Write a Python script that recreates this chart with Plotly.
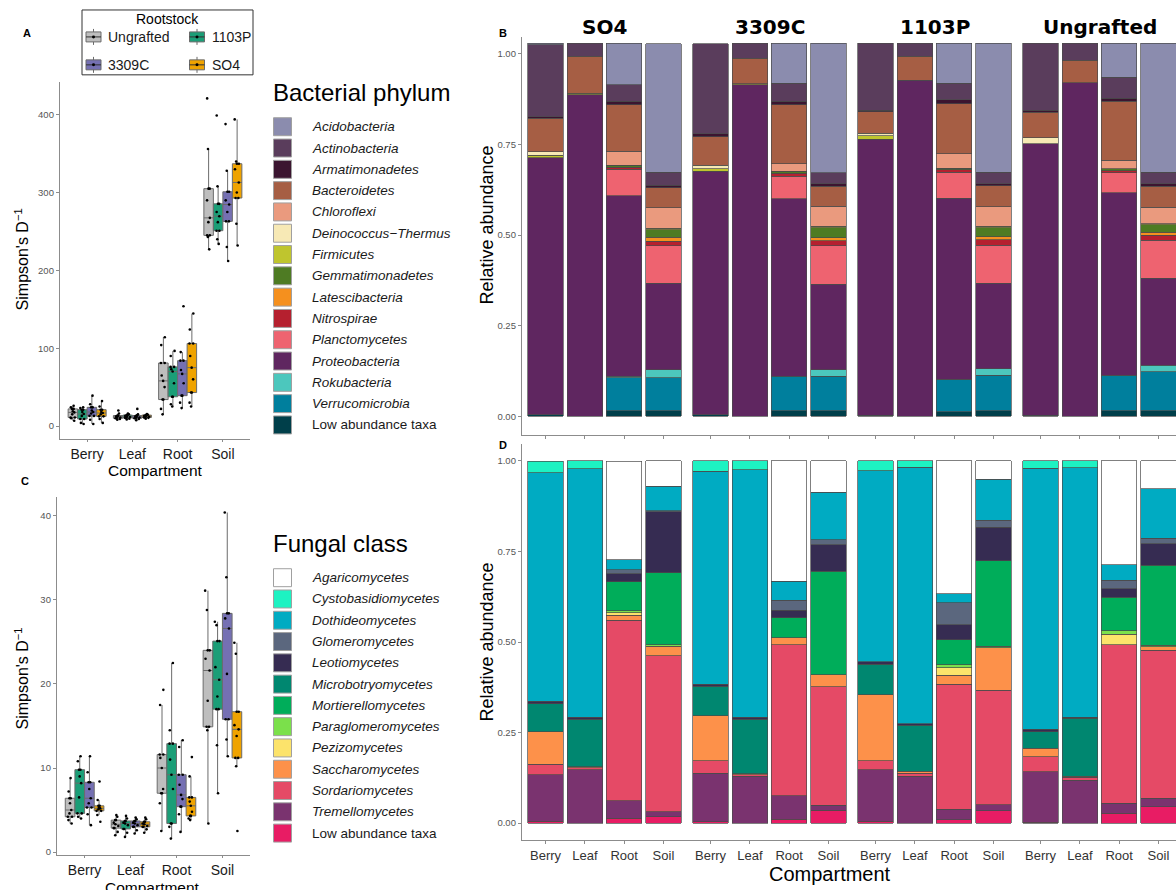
import plotly.graph_objects as go

W, H = 1176, 890
FONT = "Liberation Sans, Arial, Helvetica, sans-serif"

# ---------------- data ----------------
compartments = ["Berry", "Leaf", "Root", "Soil"]
rootstocks = ["Ungrafted", "1103P", "3309C", "SO4"]
rootstock_colors = ["#BEBEBE", "#1B9E77", "#7570B3", "#EFA300"]

# Panel A: bacterial Simpson's D^-1, per rootstock -> [Berry, Leaf, Root, Soil]
bact_ungrafted = [[6.8, 10, 11, 11, 15, 17.5, 19, 22, 22, 24, 26],
                  [8, 9, 10, 10, 11, 12, 12.5, 13.5, 13.5, 16, 20],
                  [15, 22, 34, 34, 50, 58, 65, 81, 81, 104, 114],
                  [227, 243, 245, 245, 262, 267.5, 290, 305, 305, 356, 421]]
bact_1103p = [[2.6, 4, 9, 9, 13, 15.4, 18, 21, 21, 23, 24],
              [8.5, 9.5, 10.5, 10.5, 11.5, 12, 13, 14, 14, 15, 16],
              [25, 28, 37.6, 37.6, 55, 70, 73, 76, 76, 90, 96.5],
              [234, 240, 251, 251, 262, 269.6, 275, 285.5, 285.5, 308, 399]]
bact_3309c = [[2.6, 8, 13, 13, 16, 18, 20, 24, 24, 28, 39],
              [7.5, 9, 10, 10, 11, 11.5, 12.5, 13.5, 13.5, 15, 22],
              [23, 30, 39, 39, 55, 67, 72, 84, 84, 95, 154],
              [212, 230, 263, 263, 275, 284.6, 290, 301, 301, 328, 388]]
bact_so4 = [[4, 9, 12.4, 12.4, 15, 16.7, 18, 21, 21, 25, 32],
            [9.5, 10.5, 11, 11, 12, 12.5, 13, 14, 14, 14.5, 15.5],
            [25, 30, 43, 43, 60, 75, 90, 106, 106, 124, 144.5],
            [232, 260, 293, 293, 300, 313, 330, 337, 337, 340, 394]]

# Panel C: fungal Simpson's D^-1
fung_ungrafted = [[3.4, 3.8, 4.2, 4.2, 4.6, 5.0, 5.8, 6.4, 6.4, 7.2, 8.8],
                  [2.0, 2.4, 2.85, 2.85, 3.1, 3.3, 3.5, 3.8, 3.8, 4.2, 4.4],
                  [2.5, 5.8, 7.0, 7.0, 7.5, 10.0, 11.2, 11.6, 11.6, 17.5, 19.3],
                  [3.4, 14.5, 14.9, 14.9, 18.0, 21.6, 23.0, 24.0, 24.0, 28.8, 31.1]]
fung_1103p = [[4.0, 4.2, 4.6, 4.6, 6.5, 8.2, 9.0, 9.8, 9.8, 10.8, 11.4],
              [1.8, 2.3, 2.75, 2.75, 3.2, 3.4, 3.5, 3.7, 3.7, 4.0, 4.3],
              [1.6, 3.0, 3.4, 3.4, 7.5, 9.2, 11.0, 12.9, 12.9, 14.5, 22.5],
              [7.0, 12.7, 17.0, 17.0, 18.5, 20.5, 22.0, 25.1, 25.1, 27.0, 27.4]]
fung_3309c = [[3.2, 4.5, 5.3, 5.3, 5.8, 6.4, 7.5, 8.3, 8.3, 9.5, 11.4],
              [2.2, 2.6, 3.0, 3.0, 3.2, 3.4, 3.5, 3.7, 3.7, 3.9, 4.1],
              [2.4, 4.5, 5.4, 5.4, 6.3, 6.8, 8.0, 9.2, 9.2, 12.5, 13.3],
              [11.4, 13.4, 15.8, 15.8, 21.2, 26.6, 27.8, 28.4, 28.4, 32.7, 40.4]]
fung_so4 = [[3.6, 4.4, 4.9, 4.9, 5.1, 5.2, 5.3, 5.5, 5.5, 6.2, 8.4],
            [2.3, 2.7, 3.0, 3.0, 3.1, 3.3, 3.4, 3.6, 3.6, 3.9, 4.1],
            [3.8, 4.0, 4.3, 4.3, 4.8, 5.5, 6.0, 6.5, 6.5, 9.0, 11.3],
            [2.5, 10.2, 11.2, 11.2, 13.8, 14.6, 15.1, 16.7, 16.7, 23.6, 24.9]]

# Panels B / D facets; each taxon array = 4 facets x [Berry, Leaf, Root, Soil]
facets = ["SO4", "3309C", "1103P", "Ungrafted"]

phyla = ["Acidobacteria", "Actinobacteria", "Armatimonadetes", "Bacteroidetes",
         "Chloroflexi", "Deinococcus\u2212Thermus", "Firmicutes", "Gemmatimonadetes",
         "Latescibacteria", "Nitrospirae", "Planctomycetes", "Proteobacteria",
         "Rokubacteria", "Verrucomicrobia", "Low abundance taxa"]
phyla_colors = ["#8B8CAE", "#5A3D5C", "#3B1530", "#A65E44", "#EA9A7E", "#F7E9B5",
                "#BFC52E", "#4E7B23", "#F5901E", "#B5202F", "#EE6370", "#5F2660",
                "#4CC7BD", "#007F9D", "#003F4A"]

acidobacteria = [.004, 0, .114, .355, 0, 0, .110, .357, 0, 0, .110, .357, 0, 0, .094, .356]
actinobacteria = [.199, .036, .046, .035, .249, .041, .050, .030, .184, .036, .046, .031, .185, .046, .057, .031]
armatimonadetes = [.004, 0, .009, .007, .007, 0, .009, .007, .004, 0, .011, .006, .005, 0, .009, .007]
bacteroidetes = [.092, .101, .128, .055, .079, .070, .163, .055, .060, .066, .138, .058, .071, .062, .163, .058]
chloroflexi = [0, 0, .039, .057, 0, 0, .021, .055, 0, 0, .039, .054, 0, 0, .023, .045]
deinococcus = [.009, 0, 0, 0, .010, 0, 0, 0, .007, 0, 0, 0, .016, 0, 0, 0]
firmicutes = [.008, .005, 0, .004, .007, .003, 0, .005, .009, 0, 0, .003, 0, 0, 0, .003]
gemmatimonadetes = [0, 0, .006, .021, 0, 0, .005, .027, 0, 0, .005, .026, 0, 0, .005, .021]
latescibacteria = [0, 0, 0, .011, 0, 0, 0, .009, 0, 0, 0, .008, 0, 0, 0, .008]
nitrospirae = [0, 0, .005, .013, 0, 0, .009, .014, 0, 0, .006, .015, 0, 0, .006, .014]
planctomycetes = [0, 0, .073, .103, 0, 0, .061, .106, 0, 0, .072, .105, 0, 0, .055, .105]
proteobacteria = [.709, .887, .499, .239, .671, .915, .491, .236, .762, .927, .499, .235, .749, .921, .503, .240]
rokubacteria = [0, 0, .003, .021, 0, 0, 0, .018, 0, 0, .002, .018, 0, 0, .002, .018]
verrucomicrobia = [0, 0, .091, .091, 0, 0, .094, .094, 0, 0, .088, .098, 0, 0, .096, .107]
bact_low = [.004, 0, .016, .016, .005, 0, .016, .016, .003, 0, .013, .016, .003, 0, .016, .016]

classes = ["Agaricomycetes", "Cystobasidiomycetes", "Dothideomycetes", "Glomeromycetes",
           "Leotiomycetes", "Microbotryomycetes", "Mortierellomycetes", "Paraglomeromycetes",
           "Pezizomycetes", "Saccharomycetes", "Sordariomycetes", "Tremellomycetes",
           "Low abundance taxa"]
class_colors = ["#FFFFFF", "#1DF2C2", "#00ABC2", "#5B677E", "#362C52", "#008770",
                "#00AD5A", "#7BE04B", "#FCE36B", "#FD914A", "#E54A66", "#7A336F", "#E81C64"]

agaricomycetes = [0, 0, .272, .070, 0, 0, .332, .086, 0, 0, .366, .050, 0, 0, .287, .077]
cystobasidiomycetes = [.031, .022, 0, 0, .028, .024, 0, 0, .027, .017, 0, 0, .020, .019, 0, 0]
dothideomycetes = [.632, .686, .027, .067, .588, .684, .053, .132, .528, .709, .025, .114, .721, .689, .043, .136]
glomeromycetes = [0, 0, .012, .003, 0, 0, .027, .013, 0, 0, .061, .019, 0, 0, .023, .016]
leotiomycetes = [.006, .005, .021, .169, .006, .005, .021, .073, .006, .003, .041, .092, .006, .003, .023, .059]
microbotryomycetes = [.078, .131, 0, 0, .081, .150, 0, 0, .084, .127, 0, 0, .046, .159, 0, 0]
mortierellomycetes = [0, 0, .080, .199, 0, 0, .055, .286, 0, 0, .069, .236, 0, 0, .093, .221]
paraglomeromycetes = [0, 0, .006, .003, 0, 0, 0, 0, 0, 0, .009, .005, 0, 0, .010, .004]
pezizomycetes = [0, 0, .007, 0, 0, 0, 0, 0, 0, 0, .020, 0, 0, 0, .028, 0]
saccharomycetes = [.090, .003, .014, .027, .125, .003, .019, .033, .182, .006, .026, .117, .023, .003, 0, .009]
sordariomycetes = [.029, .006, .498, .430, .034, .005, .418, .327, .026, .009, .344, .316, .042, .008, .438, .409]
tremellomycetes = [.128, .147, .048, .014, .134, .129, .064, .015, .142, .129, .030, .017, .139, .119, .027, .023]
fung_low = [.005, 0, .014, .018, .004, 0, .011, .035, .005, 0, .009, .034, .003, 0, .028, .046]

bact_series = [acidobacteria, actinobacteria, armatimonadetes, bacteroidetes, chloroflexi,
               deinococcus, firmicutes, gemmatimonadetes, latescibacteria, nitrospirae,
               planctomycetes, proteobacteria, rokubacteria, verrucomicrobia, bact_low]
fung_series = [agaricomycetes, cystobasidiomycetes, dothideomycetes, glomeromycetes,
               leotiomycetes, microbotryomycetes, mortierellomycetes, paraglomeromycetes,
               pezizomycetes, saccharomycetes, sordariomycetes, tremellomycetes, fung_low]

# ---------------- helpers ----------------
def fx(p):
    return p / W


def fy(p):
    return 1 - p / H


fig = go.Figure()

# ---------------- box panels A and C ----------------
box_sets = [("x", "y", [bact_ungrafted, bact_1103p, bact_3309c, bact_so4]),
            ("x2", "y2", [fung_ungrafted, fung_1103p, fung_3309c, fung_so4])]
for xa, ya, groups in box_sets:
    for rs, col, data in zip(rootstocks, rootstock_colors, groups):
        xs, ys = [], []
        for comp, vals in zip(compartments, data):
            xs += [comp] * len(vals)
            ys += vals
        fig.add_trace(go.Box(
            x=xs, y=ys, name=rs, xaxis=xa, yaxis=ya, offsetgroup=rs,
            fillcolor=col, line=dict(color="#6b6b6b", width=1),
            marker=dict(color="black", size=2.6),
            boxpoints="all", jitter=0.6, pointpos=0, whiskerwidth=0,
            showlegend=False, hoverinfo="skip"))

# ---------------- stacked bars B and D ----------------
def add_stack(series, names, colors, axis_start):
    for fi in range(len(facets)):
        xa = "x%d" % (axis_start + fi)
        ya = "y%d" % (axis_start + fi)
        for vals, name, col in reversed(list(zip(series, names, colors))):
            seg = vals[fi * 4:(fi + 1) * 4]
            seg = [v if v > 0 else None for v in seg]
            fig.add_trace(go.Bar(
                x=compartments, y=seg, name=name, xaxis=xa, yaxis=ya,
                marker=dict(color=col, line=dict(color="#4a4a4a", width=0.7)),
                width=0.9, showlegend=False, hoverinfo="skip"))

add_stack(bact_series, phyla, phyla_colors, 3)
add_stack(fung_series, classes, class_colors, 7)

# ---------------- axes ----------------
LINE = "#8c8c8c"
layout_axes = {}

def xcat(domain, anchor, rng, labels=True, size=14, color="#1a1a1a", ticklen=3):
    return dict(domain=domain, anchor=anchor, type="category",
                categoryorder="array", categoryarray=compartments,
                range=rng, showline=True, linecolor=LINE, linewidth=1.3,
                ticks="outside", ticklen=ticklen, tickcolor=LINE, showgrid=False,
                zeroline=False, showticklabels=labels,
                tickfont=dict(family=FONT, size=size, color=color))

def yval(domain, anchor, rng, tickvals, ticktext=None, visible=True):
    d = dict(domain=domain, anchor=anchor, range=rng, showline=True,
             linecolor=LINE, linewidth=1.3, ticks="outside", ticklen=3,
             tickcolor=LINE, showgrid=False, zeroline=False,
             tickvals=tickvals, visible=visible,
             tickfont=dict(family=FONT, size=9.5, color="#555555"))
    if ticktext:
        d["ticktext"] = ticktext
    return d

# A
layout_axes["xaxis"] = xcat([fx(60), fx(250)], "y", [-0.6, 3.6], ticklen=2)
layout_axes["yaxis"] = yval([fy(440), fy(82)], "x", [-16.7, 442.3], [0, 100, 200, 300, 400])
# C
layout_axes["xaxis2"] = xcat([fx(57), fx(250)], "y2", [-0.6, 3.6], ticklen=2)
layout_axes["yaxis2"] = yval([fy(857), fy(498)], "x2", [-0.36, 42.26], [0, 10, 20, 30, 40])

edges = [522, 687, 852, 1017, 1182]
pticks = [0, 0.25, 0.5, 0.75, 1.0]
ptext = ["0.00", "0.25", "0.50", "0.75", "1.00"]
for fi in range(4):
    e0, e1 = edges[fi], edges[fi + 1]
    e1c = min(e1, W)
    rng = [-0.6, -0.6 + 4.2 * (e1c - e0) / (e1 - e0)]
    dom = [fx(e0), fx(e1c)]
    nb = 3 + fi
    nd = 7 + fi
    layout_axes["xaxis%d" % nb] = xcat(dom, "y%d" % nb, rng, labels=False)
    layout_axes["yaxis%d" % nb] = yval([fy(436), fy(37)], "x%d" % nb,
                                       [-0.0515, 1.0468], pticks, ptext, visible=(fi == 0))
    layout_axes["xaxis%d" % nd] = xcat(dom, "y%d" % nd, rng, labels=True, size=13, color="#333333")
    layout_axes["yaxis%d" % nd] = yval([fy(842), fy(445)], "x%d" % nd,
                                       [-0.0468, 1.0468], pticks, ptext, visible=(fi == 0))

# ---------------- annotations & shapes ----------------
ann = []
shapes = []

def text(x, y, s, size, color="#000000", xanchor="center", yanchor="middle",
         angle=0, family=FONT):
    ann.append(dict(x=fx(x), y=fy(y), xref="paper", yref="paper", text=s,
                    showarrow=False, xanchor=xanchor, yanchor=yanchor,
                    textangle=angle, font=dict(family=family, size=size, color=color)))

# panel letters
for lab, x, y in [("A", 27, 33), ("B", 503, 33), ("C", 25, 482), ("D", 503, 446)]:
    text(x, y, "<b>%s</b>" % lab, 11)

# facet titles
for fi, f in enumerate(facets):
    cx = (edges[fi] + edges[fi + 1]) / 2
    text(cx, 27, "<b>%s</b>" % f, 20, family="DejaVu Sans, Verdana, sans-serif")

# axis titles
text(22, 260, "Simpson's D<sup>\u22121</sup>", 16, angle=-90)
text(22, 680, "Simpson's D<sup>\u22121</sup>", 16, angle=-90)
text(155, 472, "Compartment", 15.5)
text(152, 889, "Compartment", 15.5)
text(487, 226, "Relative abundance", 18, angle=-90)
text(487, 644, "Relative abundance", 18, angle=-90)
text(830, 876, "Compartment", 20)

# Rootstock legend
shapes.append(dict(type="rect", xref="paper", yref="paper", x0=fx(82), x1=fx(253),
                   y0=fy(75), y1=fy(10), line=dict(color="#333333", width=1)))
text(167, 19, "Rootstock", 14)
for i, (rs, col) in enumerate(zip(rootstocks, rootstock_colors)):
    cx = [93.5, 197][i % 2]
    cy = [37, 65][i // 2]
    shapes.append(dict(type="line", xref="paper", yref="paper", x0=fx(cx), x1=fx(cx),
                       y0=fy(cy + 8), y1=fy(cy - 8), line=dict(color="#6b6b6b", width=1)))
    shapes.append(dict(type="rect", xref="paper", yref="paper", x0=fx(cx - 7.5), x1=fx(cx + 7.5),
                       y0=fy(cy + 5), y1=fy(cy - 5), fillcolor=col,
                       line=dict(color="#6b6b6b", width=1)))
    shapes.append(dict(type="line", xref="paper", yref="paper", x0=fx(cx - 7.5), x1=fx(cx + 7.5),
                       y0=fy(cy), y1=fy(cy), line=dict(color="#333333", width=1)))
    shapes.append(dict(type="circle", xref="paper", yref="paper", x0=fx(cx - 1.5), x1=fx(cx + 1.5),
                       y0=fy(cy + 1.5), y1=fy(cy - 1.5), fillcolor="black", line=dict(width=0)))
    text(cx + 12.5, cy, rs, 14, color="#1a1a1a", xanchor="left")

# Bacterial / fungal legends
def draw_legend(title, title_y, names, colors, y0, step):
    text(271, title_y, title, 24, xanchor="left")
    for i, (n, c) in enumerate(zip(names, colors)):
        cy = y0 + i * step
        shapes.append(dict(type="rect", xref="paper", yref="paper",
                           x0=fx(273.5), x1=fx(291.5), y0=fy(cy + 9), y1=fy(cy - 9),
                           fillcolor=c, line=dict(color="#a0a0a0", width=1)))
        label = n if n == "Low abundance taxa" else "<i>%s</i>" % n
        text(310, cy, label, 13.5, color="#1a1a1a", xanchor="left")

draw_legend("Bacterial phylum", 93, phyla, phyla_colors, 127, 21.35)
draw_legend("Fungal class", 545, classes, class_colors, 579, 21.33)

fig.update_layout(
    width=W, height=H, margin=dict(l=0, r=0, t=0, b=0), autosize=False,
    paper_bgcolor="white", plot_bgcolor="white",
    barmode="stack", boxmode="group", boxgap=0.16, boxgroupgap=0.0,
    font=dict(family=FONT),
    annotations=ann, shapes=shapes, showlegend=False,
    **layout_axes)

fig.write_html("out.html")
